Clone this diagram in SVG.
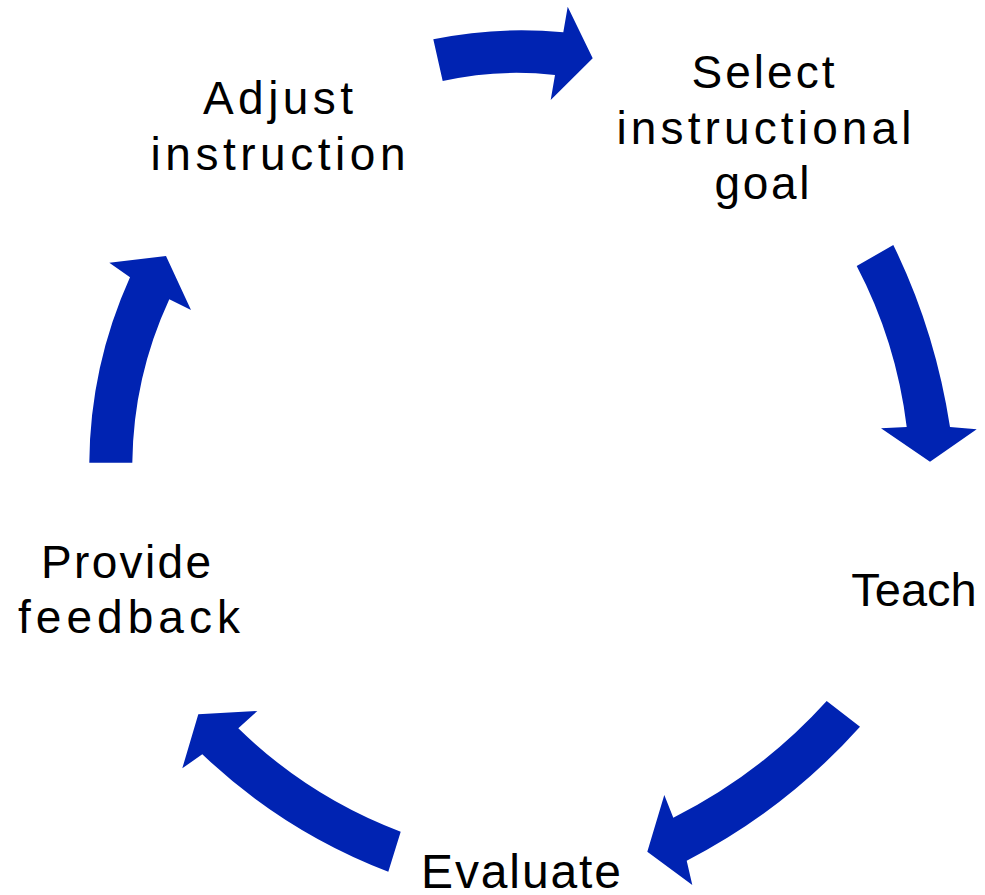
<svg xmlns="http://www.w3.org/2000/svg" width="985" height="895" viewBox="0 0 985 895">
<style>
.lbl{font-family:"Liberation Sans",Arial,sans-serif;font-size:46px;fill:#000;text-anchor:middle}
.arr{fill:#0023B2;stroke:none}
</style>
<rect width="985" height="895" fill="#fff"/>
<g id="connectors">
<path class="arr" d="M433.3,39.3 Q498,26 563.3,32.3 L567.7,6.7 L592.7,58.3 L550.7,100 L555,75 Q498,68.6 442.7,81 Z"/>
<path class="arr" d="M893.3,245 Q935,330 950,427 L976.7,429.3 L930,461.7 L881,428.3 L906.7,427 Q896.3,341.5 856.7,266 Z"/>
<path class="arr" d="M826.7,701 Q761,773.6 673.3,817.7 L664.3,795 L647.3,851.7 L692.3,885 L686.7,860.7 Q785.6,809.7 860,726.7 Z"/>
<path class="arr" d="M400.7,831.7 Q308.7,796.9 238.3,728.3 L257.3,711 L198.3,714.3 L182.3,768.3 L202.3,754.3 Q283.6,831.6 388.3,871.7 Z"/>
<path class="arr" d="M89.3,462.7 Q90.1,365.7 130,277.3 L109.3,262.7 L166,256 L191,310 L169.3,299.3 Q133.3,377 132.3,462.7 Z"/>
</g>
<g id="node-select">
<text class="lbl" x="763" y="88" textLength="143" lengthAdjust="spacing">Select</text>
<text class="lbl" x="764" y="144" textLength="295" lengthAdjust="spacing">instructional</text>
<text class="lbl" x="762" y="199" textLength="95" lengthAdjust="spacing">goal</text>
</g>
<g id="node-teach">
<text class="lbl" x="914" y="606" style="font-size:47px">Teach</text>
</g>
<g id="node-evaluate">
<text class="lbl" x="521" y="888" style="font-size:48px" textLength="200" lengthAdjust="spacing">Evaluate</text>
</g>
<g id="node-feedback">
<text class="lbl" x="126" y="578" textLength="170" lengthAdjust="spacing">Provide</text>
<text class="lbl" x="129" y="633" textLength="222" lengthAdjust="spacing">feedback</text>
</g>
<g id="node-adjust">
<text class="lbl" x="278" y="114" textLength="150" lengthAdjust="spacing">Adjust</text>
<text class="lbl" x="278" y="170" textLength="255" lengthAdjust="spacing">instruction</text>
</g>
</svg>
